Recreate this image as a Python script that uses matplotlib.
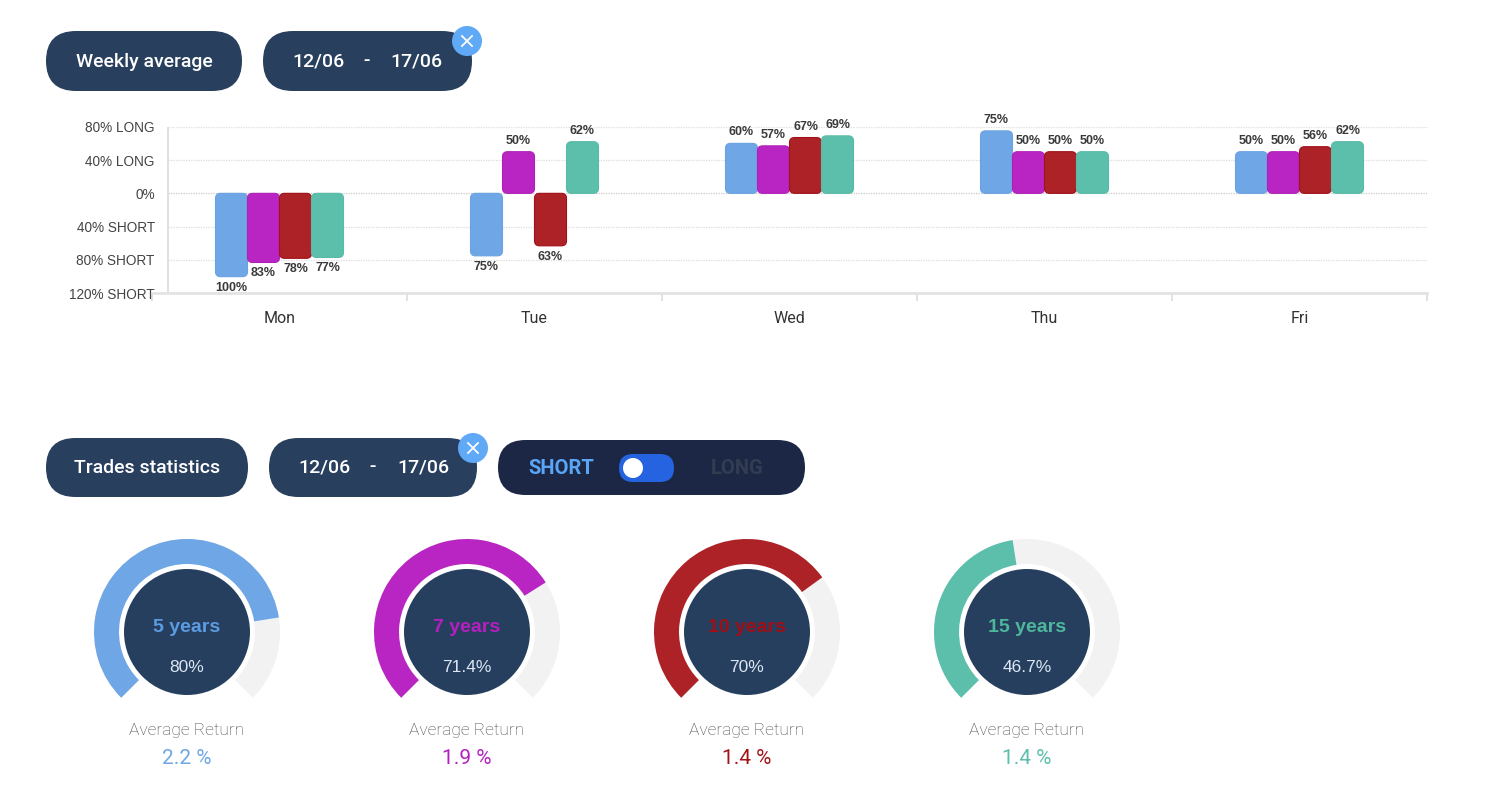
import matplotlib
matplotlib.use("Agg")
import matplotlib.pyplot as plt
from matplotlib.patches import FancyBboxPatch, Wedge, Circle
import numpy as np

# ---------------- data ----------------
days = ["Mon", "Tue", "Wed", "Thu", "Fri"]
series_names = ["5 years", "7 years", "10 years", "15 years"]
# positive = LONG, negative = SHORT
vals_5y = [-100, -75, 60, 75, 50]
vals_7y = [-83, 50, 57, 50, 50]
vals_10y = [-78, -63, 67, 50, 56]
vals_15y = [-77, 62, 69, 50, 62]
ytick_vals = [-120, -80, -40, 0, 40, 80]
ytick_labels = ["120% SHORT", "80% SHORT", "40% SHORT", "0%", "40% LONG", "80% LONG"]

gauge_pct = [80, 71.4, 70, 46.7]
gauge_pct_labels = ["80%", "71.4%", "70%", "46.7%"]
avg_return = [2.2, 1.9, 1.4, 1.4]

date_from = "12/06"
date_to = "17/06"

colors = ["#6ea6e6", "#b925c2", "#ad2227", "#5cbfab"]
edge_colors = ["#6aa2e2", "#b020b8", "#a01018", "#58bba6"]
title_colors = ["#5b9be3", "#b51fc0", "#a10d15", "#4db79b"]
ret_colors = ["#6ea6e6", "#b41fbf", "#a3131a", "#5cbfab"]

W, H = 1491, 792
fig = plt.figure(figsize=(W / 100, H / 100), dpi=100)
fig.patch.set_facecolor("white")

# ---------------- overlay in pixel coordinates ----------------
ov = fig.add_axes([0, 0, 1, 1], zorder=0)
ov.set_xlim(0, W)
ov.set_ylim(H, 0)
ov.axis("off")

NAVY = "#283f5e"
DARK = "#1b2744"


def pill(x0, y0, x1, y1, color):
    h = y1 - y0
    p = FancyBboxPatch((x0 + h / 2, y0 + h / 2), (x1 - x0) - h, 0.0001,
                       boxstyle="round,pad=%f" % (h / 2), fc=color, ec="none")
    ov.add_patch(p)


def close_btn(cx, cy):
    ov.add_patch(Circle((cx, cy), 15, fc="#5fa9f6", ec="none", zorder=3))
    d = 5
    ov.plot([cx - d, cx + d], [cy - d, cy + d], color="white", lw=1.3, zorder=4)
    ov.plot([cx - d, cx + d], [cy + d, cy - d], color="white", lw=1.3, zorder=4)


btn_font = dict(family="Roboto", fontweight="medium", color="white", fontsize=14,
                ha="center", va="center")

# row 1
pill(46, 31, 242, 91, NAVY)
ov.text(144, 62, "Weekly average", **btn_font)
pill(263, 31, 472, 91, NAVY)
ov.text(318, 62, date_from, **btn_font)
ov.text(367, 61, "-", **btn_font)
ov.text(416, 62, date_to, **btn_font)
close_btn(467, 41)

# row 2
pill(46, 438, 248, 497, NAVY)
ov.text(147, 468, "Trades statistics", **btn_font)
pill(269, 438, 477, 497, NAVY)
ov.text(325, 468, date_from, **btn_font)
ov.text(373, 467, "-", **btn_font)
ov.text(423, 468, date_to, **btn_font)
close_btn(473, 448)

# toggle
pill(498, 440, 805, 495, DARK)
ov.text(561, 468, "SHORT", family="Roboto", fontweight="bold", color="#5aa5f5",
        fontsize=14.5, ha="center", va="center")
ov.text(737, 468, "LONG", family="Roboto", fontweight="bold", color="#323d52",
        fontsize=14.5, ha="center", va="center")
pill(619, 454, 674, 482, "#2563e0")
ov.add_patch(Circle((633, 468), 10, fc="white", ec="none", zorder=3))

# ---------------- gauges ----------------
gx = [187, 467, 747, 1027]
gy = 632
R_out, ring_w, R_in = 93, 25, 63
start_ang = 225.0
span = 270.0
for i, (cx, pct) in enumerate(zip(gx, gauge_pct)):
    end_ang = start_ang - span * pct / 100.0
    # y axis inverted: angles flip sign
    ov.add_patch(Wedge((cx, gy), R_out, -start_ang, 45.0, width=ring_w,
                       fc="#f2f2f2", ec="none", zorder=1))
    ov.add_patch(Wedge((cx, gy), R_out, -start_ang, -end_ang, width=ring_w,
                       fc=colors[i], ec="none", zorder=2))
    ov.add_patch(Circle((cx, gy), R_in, fc="#273f5e", ec="none", zorder=3))
    ov.text(cx, 627, series_names[i], family="Liberation Sans", fontweight="bold",
            fontsize=14, color=title_colors[i], ha="center", va="center", zorder=4)
    ov.text(cx, 667, gauge_pct_labels[i], family="Liberation Sans",
            fontsize=12.5, color="#dce7f4", ha="center", va="center", zorder=4)
    ov.text(cx, 730, "Average Return", family="Roboto", fontweight="light",
            fontsize=12.5, color="#4a4a4a", ha="center", va="center")
    ov.text(cx, 758, "%.1f %%" % avg_return[i], family="Roboto",
            fontsize=15, color=ret_colors[i], ha="center", va="center")

# ---------------- bar chart ----------------
px_left, px_right = 152, 1427
px_top, px_bot = 126.7, 293.3
ax = fig.add_axes([px_left / W, (H - px_bot) / H, (px_right - px_left) / W,
                   (px_bot - px_top) / H], zorder=2)
ax.patch.set_alpha(0)
ax.set_xlim(-0.5, len(days) - 0.5)
ax.set_ylim(-120, 80)

x = np.arange(len(days))
bw = 32 / 255.0
all_vals = [vals_5y, vals_7y, vals_10y, vals_15y]
x_per_px = 1 / 255.0
y_per_px = 200 / (px_bot - px_top)
rad_px = 5
for k, vals in enumerate(all_vals):
    offs = (k - 1.5) * bw
    bars = ax.bar(x + offs, vals, width=bw, color=colors[k])
    for b, v in zip(bars, vals):
        bx, by = b.get_x(), b.get_y()
        bwid, bh = b.get_width(), b.get_height()
        y0 = min(by, by + bh)
        hh = abs(bh)
        b.set_visible(False)
        rx = rad_px * x_per_px
        ry = rad_px * y_per_px
        p = FancyBboxPatch((bx + rx, y0 + ry), bwid - 2 * rx, hh - 2 * ry,
                           boxstyle="round,pad=%f" % rx,
                           mutation_aspect=ry / rx,
                           fc=colors[k], ec=edge_colors[k], lw=0.8, zorder=3)
        ax.add_patch(p)
        off = 3.5 if v >= 0 else -3.5
        ax.annotate("%d%%" % abs(v), (bx + bwid / 2, v), xytext=(0, off),
                    textcoords="offset points", ha="center",
                    va="bottom" if v >= 0 else "top",
                    fontsize=9, fontweight="bold", color="#3a3a3a",
                    family="Liberation Sans", annotation_clip=False)

# grid lines
yaxis_x = -0.5 + (168 - px_left) / 255.0
for t in ytick_vals:
    ax.hlines(t, yaxis_x, len(days) - 0.5, colors="#c8c8c8" if t == 0 else "#dddddd",
              linestyles=(0, (1, 1)), lw=0.9, zorder=1)
ax.vlines(yaxis_x, -120, 80, colors="#dddddd", lw=1.3, zorder=1)

for s in ["top", "right", "left"]:
    ax.spines[s].set_visible(False)
ax.spines["bottom"].set_color("#e3e3e3")
ax.spines["bottom"].set_linewidth(2)

ax.set_yticks(ytick_vals, ytick_labels)
ax.tick_params(axis="y", length=0, pad=-2, labelsize=9.8, labelcolor="#444444")
for lab in ax.get_yticklabels():
    lab.set_family("Liberation Sans")

ax.set_xticks(x, days)
ax.set_xticks(np.arange(-0.5, len(days)), minor=True)
ax.tick_params(axis="x", which="major", length=0, pad=13, labelsize=11.5,
               labelcolor="#333333")
ax.tick_params(axis="x", which="minor", length=6, width=1.2, color="#dddddd")
for lab in ax.get_xticklabels():
    lab.set_family("Roboto")

fig.savefig("out.png", dpi=100, facecolor="white")
